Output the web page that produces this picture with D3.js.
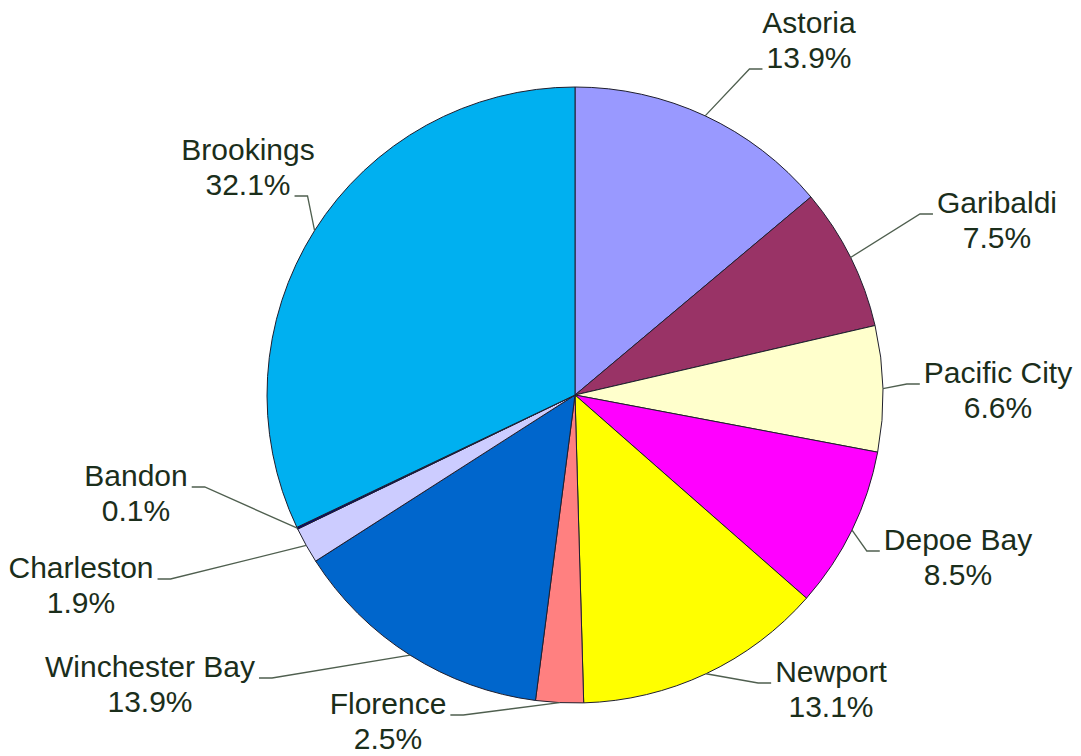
<!DOCTYPE html>
<html>
<head>
<meta charset="utf-8">
<script src="https://cdn.jsdelivr.net/npm/d3@7"></script>
<style>
  body { margin: 0; background: #fff; }
  .label { font-family: "Liberation Sans", Arial, sans-serif; font-size: 30px; fill: #1b2e1b; }
  .leader { fill: none; stroke: #4f5f4f; stroke-width: 1.3; }
  .slice { stroke: #1f1f2e; stroke-width: 1; }
</style>
</head>
<body>
<svg id="chart"></svg>
<script>
// ports, clockwise from 12 o'clock
const ports = ["Astoria", "Garibaldi", "Pacific City", "Depoe Bay", "Newport",
               "Florence", "Winchester Bay", "Charleston", "Bandon", "Brookings"];
const shares = [13.9, 7.5, 6.6, 8.5, 13.1, 2.5, 13.9, 1.9, 0.1, 32.1];
const sliceColors = ["#9999ff", "#993366", "#ffffcc", "#ff00ff", "#ffff00",
                     "#ff8080", "#0066cc", "#ccccff", "#000080", "#00b0f0"];

// label block placement relative to pie centre:
// [x of block centre, y of first baseline, line the leader meets]
const labelSpots = [[234, -362, 1], [422, -182, 0], [423, -12, 0], [383, 155, 0], [256, 287, 0],
                    [-187, 319, 0], [-425, 282, 0], [-494, 183, 0], [-439, 91, 0], [-327, -235, 1]];

const width = 1081, height = 756;
const cx = 575, cy = 395, radius = 308;
const lineGap = 35;

const svg = d3.select("#chart")
  .attr("width", width)
  .attr("height", height);

const g = svg.append("g")
  .attr("transform", `translate(${cx},${cy})`);

const rows = ports.map((p, i) => ({name: p, value: shares[i], color: sliceColors[i], spot: labelSpots[i]}));

const pie = d3.pie()
  .sort(null)
  .value(d => d.value);

const arc = d3.arc()
  .innerRadius(0)
  .outerRadius(radius);

const arcs = pie(rows);

g.selectAll("path.slice")
  .data(arcs)
  .join("path")
  .attr("class", "slice")
  .attr("d", arc)
  .attr("fill", d => d.data.color);

// labels
arcs.forEach(d => {
  let [lx, ly, attach] = d.data.spot;
  let label = g.append("text")
    .attr("class", "label")
    .attr("text-anchor", "middle");
  let t1 = label.append("tspan").attr("x", lx).attr("y", ly).text(d.data.name);
  let t2 = label.append("tspan").attr("x", lx).attr("y", ly + lineGap).text(d.data.value.toFixed(1) + "%");

  // leader line: slice edge at mid angle -> elbow -> short horizontal to the text
  let mid = (d.startAngle + d.endAngle) / 2;
  let sx = radius * Math.sin(mid), sy = -radius * Math.cos(mid);
  let tw = (attach ? t2 : t1).node().getComputedTextLength();
  let ey = ly + attach * lineGap + 1;
  let ex, kx;
  if (lx > sx) {
    ex = lx - tw / 2 - 4;
    kx = ex - 13;
  } else {
    ex = lx + tw / 2 + 4;
    kx = ex + 13;
  }
  g.append("path")
    .attr("class", "leader")
    .attr("d", d3.line()([[sx, sy], [kx, ey], [ex, ey]]));
});
</script>
</body>
</html>
